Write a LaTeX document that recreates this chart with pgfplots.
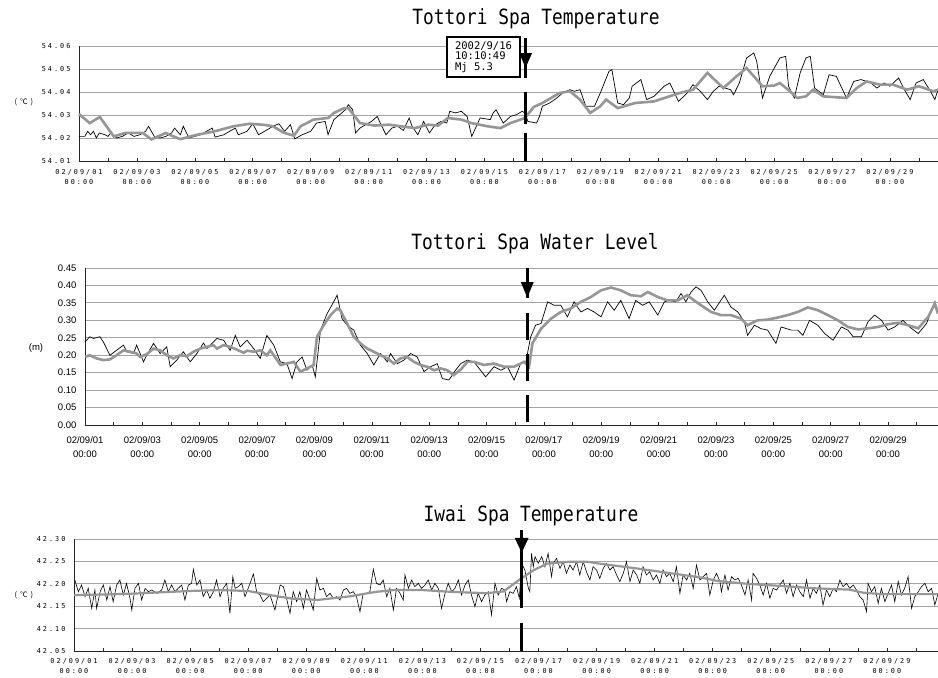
\documentclass[border=0pt]{standalone}
\usepackage{pgfplots}
\pgfplotsset{compat=1.18}
\usepackage{fontspec}
\usetikzlibrary{arrows.meta}
\setmainfont{Liberation Sans}
\newfontfamily\tickmono[LetterSpace=30]{DejaVu Sans Mono}
\newfontfamily\titlemono[FakeStretch=0.85]{DejaVu Sans Mono}
\newfontfamily\boxmono{DejaVu Sans Mono}
\newfontfamily\jpfont[LetterSpace=40]{Noto Sans CJK JP}
\definecolor{grayline}{RGB}{150,150,150}
\definecolor{gridc}{RGB}{165,165,165}
\tikzset{quake/.style={line width=3pt, black}}
\pgfplotsset{
  spabase/.style={
    scale only axis, xmin=0, clip=false,
    axis x line*=bottom, axis y line*=left,
    axis line style={-, line width=0.8pt, black!85},
    ymajorgrids, grid style={gridc, line width=0.8pt},
    xtick={0,2,...,28}, minor xtick={1,3,...,29},
    xticklabels={{02/09/01\\00:00},{02/09/03\\00:00},{02/09/05\\00:00},{02/09/07\\00:00},{02/09/09\\00:00},{02/09/11\\00:00},{02/09/13\\00:00},{02/09/15\\00:00},{02/09/17\\00:00},{02/09/19\\00:00},{02/09/21\\00:00},{02/09/23\\00:00},{02/09/25\\00:00},{02/09/27\\00:00},{02/09/29\\00:00}},
    xticklabel style={align=center},
    tick align=inside, major tick length=3pt, minor tick length=3pt,
    xtick style={black!85, line width=0.6pt},
    ytick style={draw=none},
    /pgf/number format/assume math mode=true,
  },
  rawline/.style={black, line width=0.7pt},
  smoothline/.style={grayline, line width=2.6pt},
}
\begin{document}
\begin{tikzpicture}
\path[use as bounding box] (0,0) rectangle (938pt,678pt);

% ---------------- Panel 1 ----------------
\begin{axis}[spabase,
  at={(79pt,517pt)}, anchor=south west,
  width=859pt, height=115pt, xmax=29.66,
  ymin=54.01, ymax=54.06,
  ytick={54.01,54.02,54.03,54.04,54.05,54.06},
  yticklabels={54.01,54.02,54.03,54.04,54.05,54.06},
  yticklabel style={font=\tickmono\fontsize{6.8}{8}\selectfont, xshift=-5pt},
  xticklabel style={font=\tickmono\fontsize{6.8}{10}\selectfont, yshift=-5pt},
]
\addplot[rawline] coordinates {
(0,54.0207)(0.2,54.0207)(0.3,54.0229)(0.4,54.0214)(0.5,54.0229)(0.6,54.0200)(0.7,54.0222)(0.9,54.0214)
(1.0,54.0207)(1.1,54.0222)(1.3,54.0200)(1.5,54.0207)(1.7,54.0222)(1.9,54.0207)(2.1,54.0214)(2.3,54.0229)
(2.4,54.0251)(2.6,54.0207)(2.8,54.0200)(3.0,54.0207)(3.2,54.0222)(3.3,54.0243)(3.5,54.0214)(3.6,54.0251)
(3.8,54.0200)(4.0,54.0207)(4.2,54.0214)(4.4,54.0229)(4.6,54.0243)(4.7,54.0204)(5.0,54.0214)(5.2,54.0229)
(5.4,54.0243)(5.5,54.0214)(5.8,54.0229)(6.0,54.0262)(6.2,54.0214)(6.5,54.0236)(6.7,54.0251)(6.9,54.0262)
(7.1,54.0229)(7.3,54.0258)(7.45,54.0196)(7.7,54.0214)(8.0,54.0229)(8.2,54.0265)(8.5,54.0272)(8.6,54.0214)
(8.8,54.0280)(9.0,54.0301)(9.2,54.0323)(9.3,54.0345)(9.45,54.0323)(9.55,54.0222)(9.7,54.0243)(9.9,54.0258)
(10.1,54.0272)(10.3,54.0294)(10.4,54.0265)(10.6,54.0214)(10.8,54.0243)(11.0,54.0251)(11.2,54.0233)(11.4,54.0287)
(11.5,54.0251)(11.7,54.0214)(11.9,54.0272)(12.1,54.0222)(12.3,54.0258)(12.5,54.0272)(12.7,54.0265)(12.8,54.0316)
(13.0,54.0309)(13.2,54.0316)(13.4,54.0294)(13.56,54.0207)(13.85,54.0287)(14.2,54.0280)(14.3,54.0309)(14.4,54.0323)
(14.65,54.0265)(14.9,54.0294)(15.1,54.0301)(15.3,54.0316)(15.4,54.0309)(15.5,54.0272)(15.8,54.0265)(15.9,54.0294)
(16.0,54.0338)(16.25,54.0352)(16.5,54.0374)(16.7,54.0396)(16.95,54.0410)(17.1,54.0403)(17.3,54.0410)(17.5,54.0338)
(17.8,54.0338)(18.0,54.0396)(18.3,54.0490)(18.4,54.0497)(18.6,54.0352)(18.8,54.0345)(19.0,54.0374)(19.1,54.0425)
(19.4,54.0454)(19.6,54.0367)(19.85,54.0381)(20.2,54.0425)(20.4,54.0439)(20.7,54.0359)(21.0,54.0396)(21.2,54.0432)
(21.45,54.0403)(21.7,54.0367)(21.9,54.0403)(22.1,54.0425)(22.5,54.0410)(22.6,54.0388)(22.8,54.0439)(23.05,54.0548)
(23.3,54.0570)(23.4,54.0533)(23.6,54.0374)(23.85,54.0468)(24.2,54.0548)(24.4,54.0555)(24.5,54.0425)(24.7,54.0374)
(24.9,54.0483)(25.1,54.0548)(25.25,54.0555)(25.4,54.0417)(25.7,54.0388)(25.9,54.0475)(26.15,54.0468)(26.5,54.0374)
(26.75,54.0446)(27.0,54.0454)(27.35,54.0439)(27.55,54.0417)(27.8,54.0439)(28.0,54.0425)(28.3,54.0461)(28.5,54.0410)
(28.7,54.0367)(28.9,54.0439)(29.15,54.0454)(29.4,54.0403)(29.55,54.0367)(29.66,54.0410)
};
\addplot[smoothline] coordinates {
(0,54.0304)(0.37,54.0265)(0.72,54.0291)(1.2,54.0207)(1.6,54.0222)(2.2,54.0222)(2.5,54.0194)(3.0,54.0222)
(3.2,54.0210)(3.5,54.0195)(4.07,54.0214)(4.65,54.0228)(5.34,54.0251)(5.9,54.0262)(6.4,54.0257)(6.7,54.0251)
(7.07,54.0223)(7.42,54.0210)(7.65,54.0251)(8.1,54.0280)(8.6,54.0287)(8.8,54.0309)(9.16,54.0330)(9.3,54.0330)
(9.7,54.0265)(10.2,54.0254)(10.7,54.0258)(11.1,54.0251)(11.6,54.0243)(12.05,54.0258)(12.4,54.0254)(12.74,54.0287)
(13.2,54.0280)(13.55,54.0265)(14.1,54.0251)(14.55,54.0243)(14.9,54.0265)(15.4,54.0287)(15.7,54.0335)(16.0,54.0352)
(16.6,54.0396)(16.95,54.0403)(17.3,54.0367)(17.65,54.0309)(18.0,54.0338)(18.2,54.0367)(18.6,54.0330)(19.2,54.0352)
(19.85,54.0359)(20.75,54.0396)(21.2,54.0410)(21.7,54.0483)(22.25,54.0417)(22.7,54.0468)(23.05,54.0504)(23.4,54.0454)
(23.6,54.0425)(24.0,54.0428)(24.2,54.0439)(24.55,54.0403)(24.8,54.0374)(25.1,54.0381)(25.35,54.0410)(25.7,54.0381)
(26.5,54.0374)(26.85,54.0417)(27.2,54.0446)(27.65,54.0432)(28.1,54.0432)(28.6,54.0410)(29.0,54.0425)(29.5,54.0403)(29.66,54.0410)
};
\draw[quake] (axis cs:15.42,54.0635) -- (axis cs:15.42,54.0461);
\draw[quake,-{Triangle[width=12pt,length=15pt]}] (axis cs:15.42,54.0635) -- (axis cs:15.42,54.0504);
\draw[quake] (axis cs:15.42,54.0400) -- (axis cs:15.42,54.0261);
\draw[quake] (axis cs:15.42,54.0222) -- (axis cs:15.42,54.0100);
\end{axis}

% ---------------- Panel 2 ----------------
\begin{axis}[spabase,
  at={(85pt,253pt)}, anchor=south west,
  width=853pt, height=157pt, xmax=29.74,
  ymin=0, ymax=0.45,
  ytick={0,0.05,0.10,0.15,0.20,0.25,0.30,0.35,0.40,0.45},
  yticklabels={0.00,0.05,0.10,0.15,0.20,0.25,0.30,0.35,0.40,0.45},
  yticklabel style={font=\fontsize{9.5}{11}\selectfont, xshift=-5pt},
  xticklabel style={font=\fontsize{9.5}{14}\selectfont, yshift=-8pt},
]
\addplot[rawline] coordinates {
(0,0.238)(0.17,0.253)(0.29,0.248)(0.52,0.253)(0.64,0.238)(0.87,0.200)(1.1,0.214)(1.34,0.229)(1.46,0.210)
(1.69,0.205)(1.8,0.229)(2.04,0.181)(2.15,0.200)(2.39,0.234)(2.62,0.205)(2.85,0.224)(2.97,0.167)(3.2,0.186)
(3.43,0.210)(3.67,0.181)(3.9,0.205)(4.13,0.235)(4.25,0.219)(4.6,0.248)(4.83,0.243)(5.06,0.214)(5.24,0.257)
(5.41,0.224)(5.65,0.243)(5.88,0.219)(6.11,0.191)(6.34,0.257)(6.58,0.229)(6.81,0.181)(7.04,0.176)(7.22,0.133)
(7.39,0.181)(7.57,0.195)(7.74,0.157)(7.92,0.172)(8.03,0.138)(8.21,0.272)(8.44,0.319)(8.67,0.353)(8.79,0.372)
(8.96,0.305)(9.14,0.286)(9.37,0.272)(9.6,0.229)(9.84,0.205)(10.07,0.172)(10.3,0.205)(10.54,0.181)(10.65,0.205)
(10.89,0.176)(11.12,0.186)(11.35,0.205)(11.58,0.195)(11.82,0.153)(12.05,0.167)(12.28,0.176)(12.46,0.133)
(12.69,0.129)(12.92,0.157)(13.1,0.176)(13.33,0.186)(13.56,0.181)(13.97,0.138)(14.26,0.167)(14.5,0.157)
(14.73,0.167)(14.96,0.129)(15.19,0.176)(15.37,0.181)(15.54,0.253)(15.71,0.286)(15.9,0.291)(16.13,0.353)
(16.36,0.343)(16.59,0.343)(16.82,0.310)(17.05,0.353)(17.29,0.324)(17.52,0.334)(17.75,0.324)(17.99,0.310)
(18.22,0.353)(18.45,0.329)(18.68,0.357)(18.97,0.305)(19.2,0.357)(19.44,0.343)(19.67,0.353)(19.97,0.315)
(20.2,0.353)(20.37,0.357)(20.6,0.353)(20.78,0.377)(20.95,0.353)(21.13,0.381)(21.3,0.396)(21.48,0.386)
(21.71,0.353)(21.94,0.329)(22.29,0.372)(22.52,0.338)(22.76,0.324)(22.99,0.296)(23.1,0.257)(23.34,0.286)
(23.57,0.276)(23.8,0.272)(24.09,0.234)(24.27,0.281)(24.62,0.272)(24.85,0.272)(25.03,0.257)(25.26,0.300)
(25.55,0.286)(25.79,0.262)(26.08,0.243)(26.37,0.281)(26.6,0.272)(26.78,0.253)(27.07,0.253)(27.3,0.296)
(27.53,0.315)(27.77,0.300)(28.0,0.272)(28.23,0.281)(28.52,0.300)(28.75,0.281)(29.05,0.262)(29.34,0.291)
(29.63,0.353)(29.74,0.324)
};
\addplot[smoothline] coordinates {
(0,0.195)(0.17,0.200)(0.4,0.191)(0.64,0.186)(0.87,0.188)(1.1,0.200)(1.34,0.214)(1.57,0.210)(1.8,0.205)
(1.92,0.195)(2.15,0.203)(2.39,0.219)(2.62,0.214)(2.85,0.200)(3.08,0.191)(3.32,0.200)(3.55,0.197)(3.78,0.210)
(4.02,0.219)(4.25,0.224)(4.48,0.229)(4.6,0.219)(4.83,0.229)(5.06,0.224)(5.3,0.216)(5.53,0.207)(5.65,0.213)
(5.88,0.210)(6.11,0.214)(6.34,0.200)(6.46,0.214)(6.7,0.186)(6.81,0.172)(7.04,0.176)(7.28,0.181)(7.51,0.153)
(7.74,0.162)(7.97,0.172)(8.09,0.253)(8.32,0.286)(8.56,0.315)(8.79,0.334)(8.9,0.329)(9.14,0.291)(9.37,0.253)
(9.6,0.234)(9.84,0.219)(10.07,0.210)(10.3,0.200)(10.54,0.191)(10.77,0.176)(11.0,0.191)(11.23,0.195)(11.47,0.181)
(11.7,0.172)(11.93,0.167)(12.17,0.157)(12.4,0.162)(12.63,0.157)(12.86,0.143)(13.1,0.159)(13.33,0.181)
(13.56,0.181)(13.91,0.172)(14.26,0.176)(14.61,0.167)(14.96,0.167)(15.31,0.181)(15.48,0.167)(15.6,0.234)
(15.9,0.276)(16.25,0.305)(16.59,0.324)(16.94,0.334)(17.29,0.353)(17.64,0.367)(17.99,0.386)(18.34,0.394)
(18.68,0.386)(19.03,0.372)(19.38,0.369)(19.62,0.381)(19.97,0.367)(20.31,0.357)(20.66,0.357)(21.0,0.372)
(21.24,0.357)(21.48,0.343)(21.83,0.324)(22.17,0.315)(22.52,0.315)(22.87,0.305)(23.1,0.286)(23.45,0.300)
(23.8,0.302)(24.15,0.308)(24.5,0.315)(24.85,0.324)(25.2,0.337)(25.55,0.329)(25.9,0.315)(26.25,0.300)
(26.6,0.281)(26.95,0.274)(27.3,0.277)(27.65,0.281)(28.0,0.289)(28.35,0.293)(28.7,0.286)(29.05,0.277)
(29.4,0.310)(29.63,0.348)(29.74,0.319)
};
\draw[quake] (axis cs:15.42,0.45) -- (axis cs:15.42,0.364);
\draw[quake,-{Triangle[width=12pt,length=16pt]}] (axis cs:15.42,0.45) -- (axis cs:15.42,0.364);
\draw[quake] (axis cs:15.42,0.321) -- (axis cs:15.42,0.244);
\draw[quake] (axis cs:15.42,0.203) -- (axis cs:15.42,0.126);
\draw[quake] (axis cs:15.42,0.086) -- (axis cs:15.42,0.009);
\end{axis}

% ---------------- Panel 3 ----------------
\begin{axis}[spabase,
  at={(74pt,27pt)}, anchor=south west,
  width=864pt, height=112pt, xmax=29.76,
  ymin=42.05, ymax=42.30,
  ytick={42.05,42.10,42.15,42.20,42.25,42.30},
  yticklabels={42.05,42.10,42.15,42.20,42.25,42.30},
  yticklabel style={font=\tickmono\fontsize{6.8}{8}\selectfont, xshift=-5pt},
  xticklabel style={font=\tickmono\fontsize{6.8}{10}\selectfont, yshift=-4pt},
]
\addplot[rawline, line width=0.6pt] coordinates {
(0.03,42.2085)(0.15,42.1824)(0.26,42.1973)(0.38,42.1713)(0.49,42.1899)(0.61,42.1452)(0.72,42.1862)(0.78,42.1452)
(0.90,42.1824)(1.01,42.1973)(1.13,42.1638)(1.24,42.1936)(1.35,42.1601)(1.47,42.1973)(1.58,42.2085)(1.70,42.1750)
(1.81,42.2010)(1.93,42.1676)(1.99,42.1415)(2.10,42.1899)(2.22,42.2010)(2.33,42.1638)(2.45,42.1899)(2.56,42.1824)
(2.68,42.1862)(2.85,42.1787)(3.02,42.1862)(3.13,42.2085)(3.25,42.1824)(3.36,42.1973)(3.48,42.1824)(3.59,42.1899)
(3.71,42.1973)(3.82,42.1638)(3.94,42.1973)(4.05,42.2010)(4.11,42.2323)(4.23,42.1973)(4.34,42.2085)(4.45,42.1713)
(4.57,42.1862)(4.68,42.1676)(4.80,42.1824)(4.91,42.2085)(5.03,42.1713)(5.14,42.1899)(5.26,42.2010)(5.37,42.1341)
(5.47,42.2159)(5.55,42.1899)(5.66,42.1936)(5.78,42.2010)(5.89,42.1713)(6.00,42.1899)(6.18,42.2219)(6.29,42.1824)
(6.41,42.1750)(6.52,42.1601)(6.64,42.1676)(6.75,42.1750)(6.92,42.1415)(7.10,42.1973)(7.21,42.1936)(7.32,42.1676)
(7.44,42.1341)(7.55,42.1824)(7.67,42.1601)(7.78,42.1824)(7.90,42.1452)(8.01,42.1862)(8.13,42.1638)(8.24,42.1415)
(8.36,42.2122)(8.47,42.1862)(8.59,42.1899)(8.70,42.1713)(8.82,42.1787)(8.93,42.1676)(9.05,42.1713)(9.16,42.1638)
(9.28,42.1862)(9.39,42.1899)(9.50,42.1787)(9.62,42.1824)(9.73,42.1713)(9.85,42.1378)(9.96,42.1787)(10.08,42.1787)
(10.19,42.1824)(10.31,42.2323)(10.42,42.2010)(10.54,42.1973)(10.65,42.2085)(10.77,42.1713)(10.88,42.1899)(11.00,42.1415)
(11.11,42.1899)(11.23,42.1787)(11.34,42.1638)(11.40,42.2196)(11.52,42.1899)(11.63,42.2085)(11.74,42.1936)(11.86,42.2010)
(11.97,42.1899)(12.09,42.1973)(12.20,42.2085)(12.32,42.1862)(12.43,42.2010)(12.55,42.1899)(12.66,42.1452)(12.78,42.1787)
(12.89,42.2010)(13.01,42.1824)(13.12,42.1899)(13.24,42.2085)(13.35,42.1750)(13.47,42.1973)(13.58,42.2085)(13.69,42.1750)
(13.81,42.1490)(13.92,42.1787)(14.04,42.1601)(14.15,42.1750)(14.27,42.1824)(14.38,42.1304)(14.50,42.2010)(14.61,42.1750)
(14.73,42.1899)(14.84,42.1862)(14.90,42.1601)(15.01,42.1824)(15.13,42.1787)(15.24,42.1936)(15.34,42.1676)(15.42,42.2457)
(15.53,42.2308)(15.65,42.1899)(15.70,42.1824)(15.76,42.2680)(15.82,42.2382)(15.88,42.2606)(15.99,42.2457)(16.11,42.2606)
(16.22,42.2382)(16.33,42.2680)(16.45,42.2159)(16.51,42.2457)(16.62,42.2568)(16.74,42.2345)(16.85,42.2494)(16.96,42.2234)
(17.08,42.2420)(17.19,42.2308)(17.31,42.2494)(17.42,42.2196)(17.54,42.2494)(17.65,42.2271)(17.77,42.2085)(17.88,42.2382)
(18.00,42.2308)(18.11,42.2122)(18.23,42.2345)(18.34,42.2457)(18.46,42.2308)(18.57,42.2382)(18.69,42.2196)(18.80,42.2048)
(18.92,42.2234)(19.03,42.2494)(19.15,42.2048)(19.26,42.2308)(19.38,42.2196)(19.49,42.2010)(19.60,42.2382)(19.72,42.2196)
(19.83,42.2271)(19.95,42.2085)(20.06,42.2196)(20.18,42.2010)(20.29,42.2308)(20.41,42.2159)(20.52,42.2234)(20.64,42.2048)
(20.75,42.2382)(20.87,42.1787)(20.98,42.2196)(21.10,42.2085)(21.21,42.2234)(21.33,42.1899)(21.44,42.2420)(21.56,42.2085)
(21.67,42.2159)(21.79,42.2234)(21.90,42.1750)(22.02,42.2085)(22.13,42.2234)(22.25,42.2048)(22.30,42.1824)(22.42,42.2196)
(22.53,42.1862)(22.65,42.2159)(22.76,42.2085)(22.88,42.2122)(22.99,42.1973)(23.11,42.1750)(23.22,42.2085)(23.34,42.1638)
(23.39,42.2234)(23.51,42.2122)(23.62,42.1973)(23.74,42.1750)(23.85,42.2010)(23.97,42.1676)(24.08,42.1899)(24.20,42.1862)
(24.31,42.1973)(24.43,42.2085)(24.54,42.1787)(24.66,42.2010)(24.77,42.1713)(24.89,42.1973)(25.00,42.1824)(25.12,42.1713)
(25.23,42.2085)(25.35,42.1676)(25.46,42.1899)(25.57,42.1787)(25.69,42.1973)(25.80,42.1527)(25.92,42.1862)(26.03,42.1713)
(26.15,42.1899)(26.26,42.1824)(26.38,42.2085)(26.49,42.1936)(26.61,42.2010)(26.72,42.1899)(26.84,42.1973)(26.95,42.1862)
(27.07,42.1713)(27.18,42.1638)(27.30,42.1378)(27.35,42.2010)(27.47,42.1824)(27.58,42.1936)(27.70,42.1564)(27.81,42.1899)
(27.93,42.1601)(28.04,42.1787)(28.16,42.1973)(28.27,42.1601)(28.39,42.2048)(28.50,42.1750)(28.61,42.1899)(28.73,42.2159)
(28.85,42.1452)(28.96,42.1713)(29.08,42.1824)(29.19,42.1936)(29.31,42.2010)(29.42,42.1824)(29.54,42.1899)(29.65,42.1527)
(29.75,42.1750)
};
\addplot[smoothline, line width=2.2pt] coordinates {
(0,42.175)(1,42.176)(2,42.178)(3,42.181)(4,42.184)(5,42.186)(6,42.184)(7,42.172)(7.5,42.167)(8.4,42.164)
(9.5,42.172)(10.4,42.182)(11.0,42.186)(12.0,42.186)(13.0,42.182)(14.2,42.179)(14.8,42.183)(15.36,42.210)
(15.82,42.230)(16.3,42.245)(17.0,42.249)(17.7,42.249)(18.1,42.245)(19.3,42.235)(20.4,42.225)(21.6,42.214)
(22.2,42.206)(23.2,42.200)(24.4,42.195)(25.5,42.190)(26.7,42.187)(27.2,42.180)(27.8,42.177)(29.76,42.177)
};
\draw[quake] (axis cs:15.42,42.320) -- (axis cs:15.42,42.146);
\draw[quake,-{Triangle[width=13pt,length=15pt]}] (axis cs:15.42,42.320) -- (axis cs:15.42,42.269);
\draw[quake] (axis cs:15.42,42.1125) -- (axis cs:15.42,42.050);
\end{axis}

% ---------------- annotations ----------------
\node[draw, line width=2.5pt, fill=white, minimum width=73pt, minimum height=40pt, inner sep=2pt,
      align=left, font=\boxmono\fontsize{10.5}{10.5}\selectfont] at (483.5pt,621pt)
      {2002/9/16\\10:10:49\\Mj 5.3};
\node[font=\titlemono\fontsize{21}{24}\selectfont] at (536pt,659pt) {Tottori Spa Temperature};
\node[font=\titlemono\fontsize{21}{24}\selectfont] at (535pt,434pt) {Tottori Spa Water Level};
\node[font=\titlemono\fontsize{21}{24}\selectfont] at (531pt,162pt) {Iwai Spa Temperature};
\node[font=\jpfont\fontsize{7.5}{9}\selectfont] at (24pt,576pt) {(℃)};
\node[font=\jpfont\fontsize{7.5}{9}\selectfont] at (24pt,83pt) {(℃)};
\node[font=\fontsize{9.5}{11}\selectfont] at (36pt,330pt) {(m)};
\end{tikzpicture}
\end{document}
